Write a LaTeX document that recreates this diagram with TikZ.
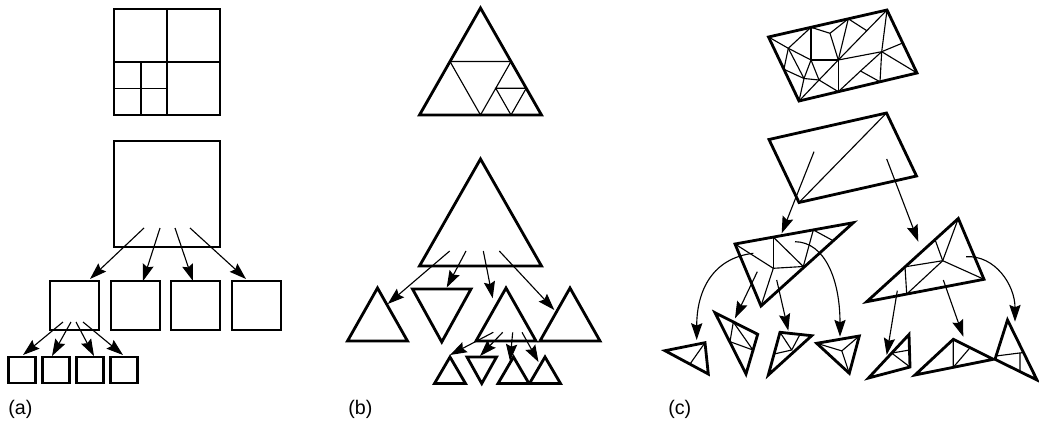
\documentclass[tikz,border=0pt]{standalone}
\usepackage{fontspec}
\setmainfont{Liberation Sans}
\usetikzlibrary{arrows.meta,calc}

\begin{document}
\begin{tikzpicture}[x=0.025cm, y=-0.025cm,
    outline/.style={line width=2pt},
    mesh/.style={line width=0.8pt},
    arr/.style={line width=0.8pt, -{Stealth[length=4.2mm,width=2.8mm,inset=0.6mm]}},
    tag/.style={anchor=base west, inner sep=0pt, font=\fontsize{14}{16}\selectfont}]
    \useasboundingbox (0,0) rectangle (1039,427);

    % (a) quadtree
    \draw[mesh] (167,9) -- (167,115) (114,62) -- (220,62)
        (141,62) -- (141,115) (114,88.5) -- (167,88.5);
    \draw[outline] (114,9) rectangle (220,115);

    % (a) tree of squares
    \draw[outline] (114,141) rectangle (220,247);
    \foreach \x in {50,111,171,232} \draw[outline] (\x,281) rectangle +(49,49);
    \foreach \x in {8.5,42.5,76.5,110.5} \draw[outline] (\x,357) rectangle +(27,26);
    \foreach \i/\sx/\ex/\ey in {1/144/90/279,2/160/143/281,3/175/193/281,4/190/246/279} {
        \coordinate (aS\i) at (\sx,228);
        \coordinate (aE\i) at (\ex,\ey);
        \draw[arr] (aS\i) -- (aE\i);
    }
    \foreach \i/\sx/\ex/\ey in {1/63/23/355,2/71/52/356,3/76/94/356,4/83/123/355} {
        \coordinate (bS\i) at (\sx,322);
        \coordinate (bE\i) at (\ex,\ey);
        \draw[arr] (bS\i) -- (bE\i);
    }

    % (b) subdivided triangle
    \coordinate (tA) at (480.5,8);
    \coordinate (tB) at (419.5,115);
    \coordinate (tC) at (541.5,115);
    \coordinate (tAB) at ($(tA)!.5!(tB)$);
    \coordinate (tAC) at ($(tA)!.5!(tC)$);
    \coordinate (tBC) at ($(tB)!.5!(tC)$);
    \coordinate (uA) at ($(tAC)!.5!(tBC)$);
    \coordinate (uB) at ($(tAC)!.5!(tC)$);
    \coordinate (uC) at ($(tBC)!.5!(tC)$);
    \draw[mesh] (tAB) -- (tAC) -- (tBC) -- cycle (uA) -- (uB) -- (uC) -- cycle;
    \draw[outline] (tA) -- (tB) -- (tC) -- cycle;

    % (b) tree of triangles
    \draw[outline] (480.5,159) -- (419.5,266) -- (541.5,266) -- cycle;
    \foreach \x in {377.5,506,570} \draw[outline] (\x,288) -- ++(-30,53) -- ++(60,0) -- cycle;
    \draw[outline] (412.5,289) -- (471,289) -- (441.75,342) -- cycle;
    \foreach \x in {450,513.5,545} \draw[outline] (\x,357) -- ++(-15.5,26.5) -- ++(31,0) -- cycle;
    \draw[outline] (467,357) -- (496.5,357) -- (481.75,383.5) -- cycle;
    \foreach \i/\sx/\ex/\ey in {1/449.7/387.7/304,2/466/446.7/287.5,3/483.3/492.7/298.3,4/499.3/554.3/310} {
        \coordinate (cS\i) at (\sx,251);
        \coordinate (cE\i) at (\ex,\ey);
        \draw[arr] (cS\i) -- (cE\i);
    }
    \foreach \i/\sx/\ex/\ey in {1/493.3/450/355,2/502.7/480/356,3/512.7/510/361,4/522/538.5/362} {
        \coordinate (dS\i) at (\sx,332.3);
        \coordinate (dE\i) at (\ex,\ey);
        \draw[arr] (dS\i) -- (dE\i);
    }

    % (c) triangulated domain
    \coordinate (mA) at (768.5,37);   \coordinate (mB) at (887,10);
    \coordinate (mC) at (917,73);     \coordinate (mD) at (799,101);
    \coordinate (m1) at (788.3,48.3); \coordinate (mT1) at (811,27.3);
    \coordinate (mT2) at (848.3,18.8);\coordinate (m2) at (830,33.3);
    \coordinate (m3) at (838.3,60);   \coordinate (m4) at (866.8,30.7);
    \coordinate (m5) at (881.7,51.7); \coordinate (m6) at (811,60);
    \coordinate (mL) at (783.9,69.3); \coordinate (m8) at (804,78.5);
    \coordinate (m9) at (819,80);     \coordinate (mB1) at (838.3,91.7);
    \coordinate (m10) at (860.5,71);  \coordinate (mB2) at (880,81.8);
    \coordinate (mR) at (902.7,43);
    \foreach \p/\q in {A/1,1/T1,T1/6,T1/2,2/T2,2/3,T2/3,T2/4,B/4,4/3,B/5,3/5,5/R,5/C,
        5/B2,10/B2,10/5,B1/10,3/B1,3/9,6/3,6/9,6/8,8/9,9/B1,1/6,1/L,L/8,1/8,8/D,9/D}
        \draw[mesh] (m\p) -- (m\q);
    \draw[outline] (mA) -- (mB) -- (mC) -- (mD) -- cycle;

    % (c) root: two triangles
    \coordinate (rA) at (769,139.5);  \coordinate (rB) at (886.5,113);
    \coordinate (rC) at (916.5,176);  \coordinate (rD) at (799,202.5);
    \draw[mesh] (rD) -- (rB);
    \draw[outline] (rA) -- (rB) -- (rC) -- (rD) -- cycle;
    \coordinate (rS1) at (814,151.7);  \coordinate (rE1) at (781.7,233.3);
    \coordinate (rS2) at (886.7,159);  \coordinate (rE2) at (918.3,241.7);
    \draw[arr] (rS1) -- (rE1);
    \draw[arr] (rS2) -- (rE2);

    % (c) left child
    \coordinate (lA) at (735,244);     \coordinate (lB) at (853.3,222.7);
    \coordinate (lC) at (761,306);     \coordinate (lT1) at (773.3,237.1);
    \coordinate (lM) at (773.3,268.3); \coordinate (lE1) at (803.3,266.5);
    \coordinate (lT2) at (813.3,229.9);\coordinate (lE2) at (833.3,240.8);
    \foreach \p/\q in {A/M,T1/M,T1/E1,M/E1,M/C,T2/E1,T2/E2}
        \draw[mesh] (l\p) -- (l\q);
    \draw[outline] (lA) -- (lB) -- (lC) -- cycle;

    % (c) right child
    \coordinate (qA) at (866.7,301.7); \coordinate (qB) at (958.3,218.5);
    \coordinate (qC) at (984,279.3);   \coordinate (qM) at (942.7,260.7);
    \coordinate (qL1) at (935,239.5);  \coordinate (qL2) at (905,266.8);
    \coordinate (qD) at (906.7,294.1);
    \foreach \p/\q in {L1/M,M/B,M/C,M/D,L2/M,L2/D}
        \draw[mesh] (q\p) -- (q\q);
    \draw[outline] (qA) -- (qB) -- (qC) -- cycle;

    % (c) arrows to the leaves
    \coordinate (lS1) at (753.3,253.3); \coordinate (lF1) at (696.7,340);
    \coordinate (lS2) at (757.3,271.7); \coordinate (lF2) at (735,318.3);
    \coordinate (lS3) at (776.7,280);   \coordinate (lF3) at (788.3,330.7);
    \coordinate (lS4) at (795,241.7);   \coordinate (lF4) at (840,336.7);
    \draw[arr] (lS1) .. controls (713,258) and (696.7,290) .. (lF1);
    \draw[arr] (lS2) -- (lF2);
    \draw[arr] (lS3) -- (lF3);
    \draw[arr] (lS4) .. controls (825,242) and (840,280) .. (lF4);
    \coordinate (qS1) at (897.3,290.7); \coordinate (qF1) at (886.7,355);
    \coordinate (qS2) at (943.3,280);   \coordinate (qF2) at (963.3,336.7);
    \coordinate (qS3) at (966,256.7);   \coordinate (qF3) at (1015,321.7);
    \draw[arr] (qS1) -- (qF1);
    \draw[arr] (qS2) -- (qF2);
    \draw[arr] (qS3) .. controls (995,255) and (1015,285) .. (qF3);

    % (c) leaves
    \draw[mesh] (690,364) -- (705,342.7);
    \draw[outline] (665,350.7) -- (705,342.7) -- (708.3,374) -- cycle;
    \draw[mesh] (733.3,322) -- (730,341.7) -- (752.9,350) -- cycle;
    \draw[outline] (715,312.7) -- (757.7,334.3) -- (746,374) -- cycle;
    \draw[mesh] (780,332.3) -- (791.7,350) -- (774.1,354) (791.7,350) -- (800,334.4);
    \draw[outline] (768.3,375) -- (780,332.3) -- (811.7,335.7) -- cycle;
    \draw[mesh] (816.7,343.3) -- (841.8,350.9) -- (859.3,336) (841.8,350.9) -- (849.3,373.3);
    \draw[outline] (816.7,343.3) -- (859.3,336) -- (849.3,373.3) -- cycle;
    \draw[mesh] (910,367) -- (891.7,353.1) -- (909.5,350);
    \draw[outline] (868.5,378) -- (909,334.5) -- (910,367) -- cycle;
    \draw[mesh] (953.3,339.3) -- (953.3,367.3) -- (970,347.7);
    \draw[outline] (915,375) -- (953.3,339.3) -- (993.3,359.3) -- cycle;
    \draw[mesh] (996,356) -- (1023.5,352.5) (1020,352.5) -- (1020,371.6);
    \draw[outline] (995,359.3) -- (1007.5,320) -- (1037,380) -- cycle;

    % Labels
    \node[tag] (la) at (8,414) {(a)};
    \node[tag] (lb) at (348,414) {(b)};
    \node[tag] (lc) at (668,414) {(c)};
\end{tikzpicture}
\end{document}
